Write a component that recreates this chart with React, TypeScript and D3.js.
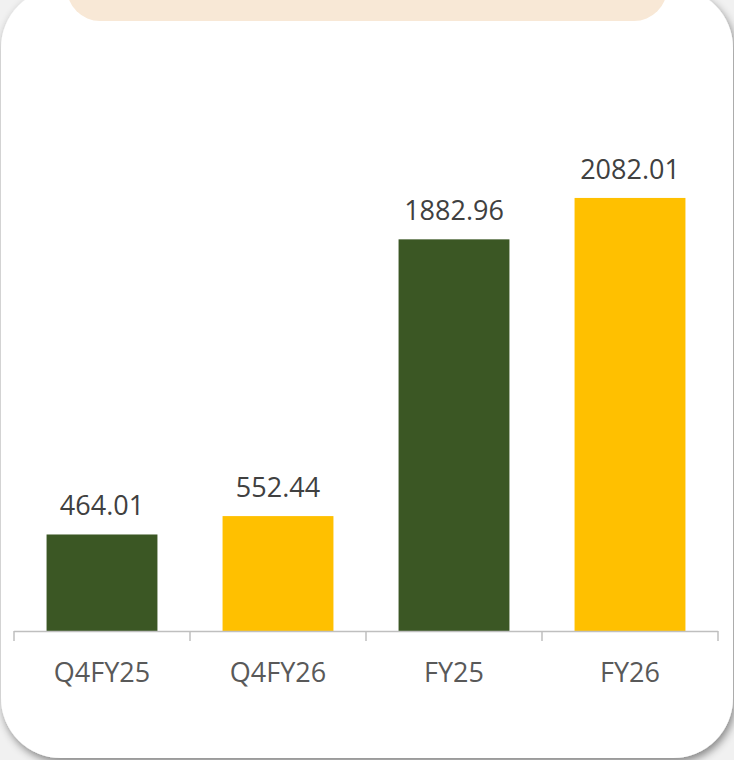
import React from "react";
import * as d3 from "d3";

const categories = ["Q4FY25", "Q4FY26", "FY25", "FY26"];
const values = [464.01, 552.44, 1882.96, 2082.01];
const barColors = ["#3b5724", "#ffc000", "#3b5724", "#ffc000"];
const yMax = 2500;

const W = 734;
const H = 760;
const baseY = 631;
const topY = 111;

export default function App() {
  const x = d3.scaleBand<string>().domain(categories).range([14, 718]).paddingInner(0.37).paddingOuter(0.185);
  const band = d3.scaleBand<string>().domain(categories).range([14, 718]).padding(0);
  const y = d3.scaleLinear().domain([0, yMax]).range([baseY, topY]);
  const font = "'Open Sans', 'Noto Sans', sans-serif";
  const tickXs = [...categories.map((c) => band(c) as number), 718];

  return (
    <div style={{ position: "fixed", left: 0, top: 0, width: W, height: H }}>
      <svg width={W} height={H} style={{ display: "block" }}>
        <defs>
          <filter id="sh" x="-10%" y="-10%" width="120%" height="120%">
            <feDropShadow dx="2" dy="4" stdDeviation="4" floodColor="#000" floodOpacity="0.45" />
          </filter>
        </defs>
        <rect x={0} y={0} width={W} height={H} fill="#f1f1f1" />
        <rect x={1} y={-12} width={W - 2} height={770} rx={60} ry={60} fill="#ffffff" filter="url(#sh)" />
        <rect x={67} y={-60} width={600} height={81} rx={33} ry={33} fill="#f8e8d6" />
        {categories.map((c, i) => (
          <g key={c}>
            <rect x={x(c)} y={y(values[i])} width={x.bandwidth()} height={baseY - y(values[i])} fill={barColors[i]} />
            <text
              x={(x(c) as number) + x.bandwidth() / 2}
              y={y(values[i]) - 19}
              textAnchor="middle"
              fontFamily={font}
              fontSize={27}
              fill="#404040"
            >
              {values[i].toFixed(2)}
            </text>
            <text
              x={(band(c) as number) + band.bandwidth() / 2}
              y={682}
              textAnchor="middle"
              fontFamily={font}
              fontSize={27}
              fill="#595959"
            >
              {c}
            </text>
          </g>
        ))}
        <line x1={14} x2={718} y1={baseY + 0.5} y2={baseY + 0.5} stroke="#bfbfbf" strokeWidth={1.5} />
        {tickXs.map((tx, i) => (
          <line key={i} x1={tx} x2={tx} y1={baseY} y2={641} stroke="#bfbfbf" strokeWidth={1.5} />
        ))}
      </svg>
    </div>
  );
}
